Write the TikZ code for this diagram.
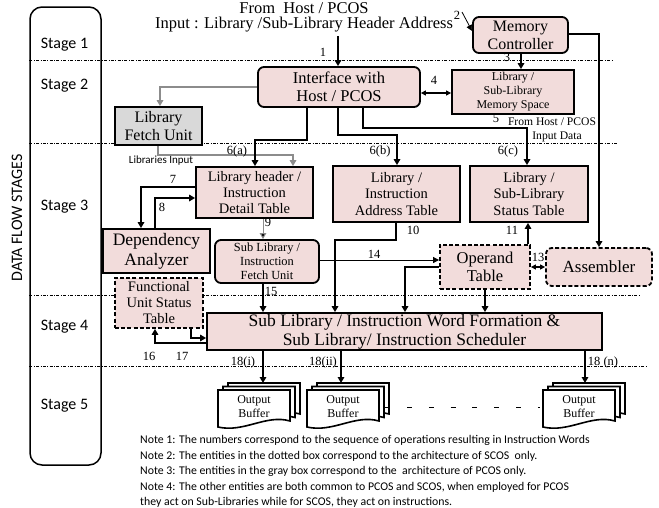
\documentclass[tikz,border=0pt]{standalone}
\usepackage{fontspec}
\setmainfont{Liberation Serif}
\newfontfamily\calfont{Carlito}
\usetikzlibrary{arrows.meta}
\definecolor{pinkc}{HTML}{F2DCDB}
\definecolor{grayfill}{HTML}{D9D9D9}
\definecolor{grayline}{HTML}{8C8C8C}
\newcommand\fsz[2]{\fontsize{#1}{#2}\selectfont}
\newcommand\outbuf[3]{%
  \begin{scope}[shift={(#2,#3)}]
    \draw[bufline] (10,-7) -- (82,-7) -- (82,24) .. controls (58,17) and (36,36) .. (10,30) -- cycle;
    \draw[bufline] (5,-3.5) -- (77,-3.5) -- (77,27.5) .. controls (53,20.5) and (31,39.5) .. (5,33.5) -- cycle;
    \draw[bufline] (0,0) -- (72,0) -- (72,31) .. controls (48,24) and (26,43) .. (0,37) -- cycle;
    \node[font=\fsz{12}{14}, align=center] (#1) at (36,17) {Output\\Buffer};
    \coordinate (#1top) at (41,-7);
  \end{scope}}
\begin{document}
\begin{tikzpicture}[x=1pt,y=-1pt,
  box/.style={draw, line width=1.8pt, fill=pinkc, align=center, inner sep=0pt},
  rbox/.style={box, rounded corners=6pt},
  dbox/.style={box, dash pattern=on 4pt off 2.2pt},
  gbox/.style={box, fill=grayfill},
  conn/.style={line width=1.6pt, -{Triangle[length=6pt,width=6.5pt]}},
  dconn/.style={line width=1.2pt, {Triangle[length=5pt,width=5pt]}-{Triangle[length=5pt,width=5pt]}},
  thinconn/.style={line width=0.8pt, -{Triangle[length=6pt,width=6pt]}},
  gconn/.style={line width=1.6pt, draw=grayline, -{Triangle[length=6pt,width=6.5pt]}},
  lab/.style={font=\fsz{12.5}{12.5}, inner sep=0pt},
  slab/.style={font=\fsz{11.6}{12}, inner sep=0pt},
  stagelab/.style={font=\calfont\fsz{16}{16}, inner sep=0pt},
  note/.style={font=\calfont\fsz{11.8}{13}, anchor=west, inner sep=0pt},
  div/.style={line width=0.6pt, dash pattern=on 3pt off 1.5pt on 0.8pt off 1.5pt},
  bufline/.style={line width=1.6pt, fill=white}]
\useasboundingbox (0,0) rectangle (659,507);

% stage column
\node[draw, line width=1.5pt, rounded corners=12pt, minimum width=71pt, minimum height=458pt, inner sep=0pt] (stages) at (65.5,236) {};
\node[font=\calfont\fsz{16}{16}, rotate=90, inner sep=0pt] (dfs) at (17,218) {DATA FLOW STAGES};
\node[stagelab] (s1) at (64.5,45) {Stage 1};
\node[stagelab] (s2) at (64.5,86) {Stage 2};
\node[stagelab] (s3) at (64.5,207) {Stage 3};
\node[stagelab] (s4) at (64.5,327) {Stage 4};
\node[stagelab] (s5) at (64.5,406) {Stage 5};

\draw[div] (stages.west |- 0,60) -- (612,60);
\draw[div] (stages.west |- 0,143) -- (618,143);
\draw[div] (stages.west |- 0,295) -- (640,295);
\draw[div] (stages.west |- 0,366) -- (647,366);

% top text
\node[font=\fsz{16.5}{18}, inner sep=0pt] (t1) at (304,8) {From\ \ Host / PCOS};
\node[font=\fsz{16.5}{18}, inner sep=0pt] (t2) at (304,25) {Input : Library /Sub-Library Header Address};
\node[lab] (l2) at (457,15) {2};

% boxes
\node[rbox, font=\fsz{16.5}{18.5}, minimum width=162pt, minimum height=40pt] (IF) at (339,87) {Interface with\\Host / PCOS};
\node[rbox, font=\fsz{16}{18}, minimum width=95pt, minimum height=36pt] (MC) at (520.5,35) {Memory\\Controller};
\node[box, font=\fsz{12}{14}, minimum width=122pt, minimum height=44pt] (MS) at (513,92) {Library /\\Sub-Library\\Memory Space};
\node[gbox, font=\fsz{16}{18}, minimum width=87pt, minimum height=38pt] (LFU) at (158.5,126) {Library\\Fetch Unit};
\node[box, font=\fsz{14.5}{16}, minimum width=117pt, minimum height=51pt] (LHT) at (254.5,192.5) {Library header /\\Instruction\\Detail Table};
\node[box, font=\fsz{14.5}{16.5}, minimum width=127pt, minimum height=56pt] (IAT) at (396.5,194) {Library /\\Instruction\\Address Table};
\node[box, font=\fsz{14.5}{16.5}, minimum width=118pt, minimum height=56pt] (SST) at (529,194) {Library /\\Sub-Library\\Status Table};
\node[box, font=\fsz{17.5}{20}, minimum width=107pt, minimum height=44pt] (DA) at (156.5,251) {Dependency\\Analyzer};
\node[rbox, font=\fsz{12.4}{14}, minimum width=104pt, minimum height=43pt] (SFU) at (267,261.5) {Sub Library /\\Instruction\\Fetch Unit};
\node[dbox, font=\fsz{16.5}{18.5}, minimum width=90pt, minimum height=44pt] (OT) at (485,267) {Operand\\Table};
\node[dbox, rounded corners=6pt, font=\fsz{17}{19}, minimum width=106pt, minimum height=38pt] (ASM) at (599,267) {Assembler};
\node[dbox, font=\fsz{14.5}{16}, minimum width=88pt, minimum height=50pt] (FUST) at (159,303) {Functional\\Unit Status\\Table};
\node[box, font=\fsz{17.5}{19}, minimum width=395pt, minimum height=37pt] (WF) at (404.5,331.5) {Sub Library / Instruction Word Formation \&\\Sub Library/ Instruction Scheduler};

% output buffers
\outbuf{ob1}{218}{390}
\outbuf{ob2}{307}{390}
\outbuf{ob3}{543}{390}
\draw[line width=1pt, dash pattern=on 5pt off 16.8pt] (ob2.east |- 0,407) ++(22,0) coordinate (dsA) -- (540,407) coordinate (dsB);

% connectors
\coordinate (in1) at (338,36);
\draw[conn] (in1) -- (IF.north -| in1);
\node[lab] at (323,52) {1};
\coordinate (in2) at (462,12);
\draw[thinconn] (in2) -- (MC.west |- 0,31);
\draw[conn] (MC.south -| 521,0) -- (MS.north -| 521,0);
\node[lab] at (507,57) {3};
\draw[dconn] (IF.east |- 0,93) -- (MS.west |- 0,93);
\node[lab] at (434,80) {4};
\node[lab] at (496,118) {5};
\node[slab] at (552,122) {From Host / PCOS};
\node[slab] at (557,137) {Input Data};
\draw[conn] (MC.east |- 0,34) -| (ASM.north -| 599,0);

\draw[gconn] (IF.west |- 0,87) -| (LFU.north -| 160,0);
\draw[gconn] (LFU.south -| 158,0) -- (158,155) -| (LHT.north -| 293,0);
\node[font=\calfont\fsz{11}{11}, inner sep=0pt] at (161,161) {Libraries Input};

\draw[conn] (IF.south -| 307,0) -- (307,140) -| (LHT.north -| 255,0);
\node[lab] at (237,151) {6(a)};
\draw[conn] (IF.south -| 338,0) -- (338,135) -| (IAT.north -| 397,0);
\node[lab] at (380,151) {6(b)};
\draw[conn] (IF.south -| 363,0) -- (363,128) -| (SST.north -| 527,0);
\node[lab] at (508,151) {6(c)};

\draw[conn] (LHT.west |- 0,187) -| (DA.north -| 141,0);
\node[lab] at (173,179) {7};
\draw[conn] (DA.north -| 155,0) |- (LHT.west |- 0,198);
\node[lab] at (162,207) {8};
\draw[line width=1pt, draw=grayline, -{Triangle[length=6pt,width=6.5pt,fill=black]}] (LHT.south -| 263,0) -- (SFU.north -| 263,0);
\node[lab] at (268,222) {9};
\draw[conn] (IAT.south -| 396,0) -- (396,240) -| (WF.north -| 335,0);
\node[lab] at (413,230) {10};
\draw[conn] (OT.north -| 528,0) -- (SST.south -| 528,0);
\node[lab] at (512,230) {11};
\draw[dconn] (OT.east |- 0,267) -- (ASM.west |- 0,267);
\node[lab] at (538,257) {13};
\draw[thinconn] (SFU.east |- 0,260) -- (OT.west |- 0,260);
\node[lab] at (374,254) {14};
\draw[conn] (OT.west |- 0,267) -| (WF.north -| 405,0);
\draw[conn] (OT.south -| 485,0) -- (WF.north -| 485,0);
\draw[conn] (SFU.south -| 263,0) -- (WF.north -| 263,0);
\node[lab] at (271,291) {15};
\draw[conn] (WF.west |- 0,343) -| (FUST.south -| 155,0);
\node[lab] at (149,356) {16};
\draw[conn] (FUST.south -| 191,0) |- (WF.west |- 0,338);
\node[lab] at (182,356) {17};

\draw[conn] (WF.south -| 263,0) -- (ob1top -| 263,0);
\node[lab] at (243,362) {18(i)};
\draw[conn] (WF.south -| 341,0) -- (ob2top -| 341,0);
\node[lab] at (323,362) {18(ii)};
\draw[conn] (WF.south -| 585,0) -- (ob3top -| 585,0);
\node[lab] at (603,362) {18 (n)};

% notes
\node[note] (n1) at (140,440) {Note 1: The numbers correspond to the sequence of operations resulting in Instruction Words};
\node[note] (n2) at (140,456) {Note 2: The entities in the dotted box correspond to the architecture of SCOS\ \ only.};
\node[note] (n3) at (140,471) {Note 3: The entities in the gray box correspond to the\ \ architecture of PCOS only.};
\node[note] (n4) at (140,487) {Note 4: The other entities are both common to PCOS and SCOS, when employed for PCOS};
\node[note] (n5) at (140,502) {they act on Sub-Libraries while for SCOS, they act on instructions.};
\end{tikzpicture}
\end{document}
